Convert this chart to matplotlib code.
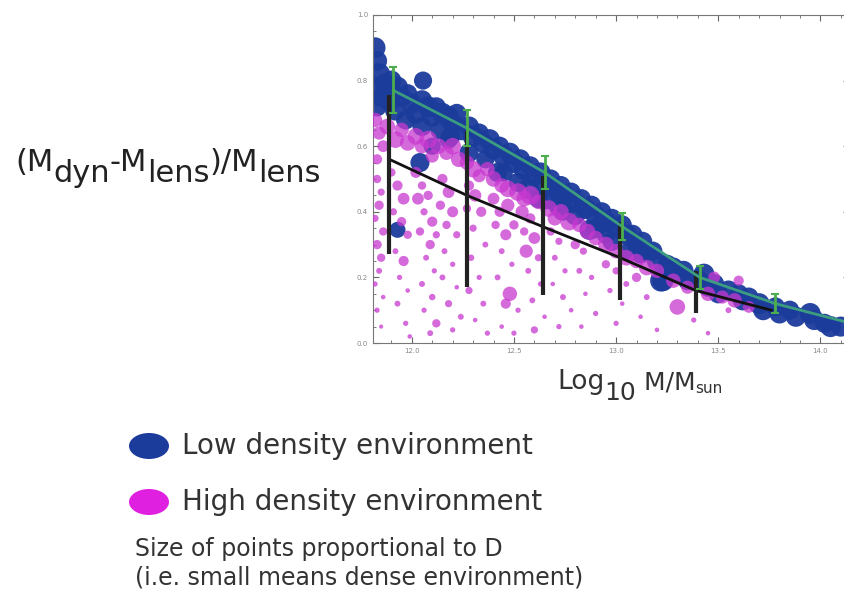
import matplotlib
matplotlib.use("Agg")
import matplotlib.pyplot as plt
from matplotlib.ticker import MultipleLocator
from matplotlib.patches import Ellipse

# ---- data ----
blue_x = [11.82,11.83,11.84,11.82,11.85,11.83,11.87,11.90,11.93,11.89,11.95,11.98,11.92,12.00,12.02,11.97,12.055,12.05,12.08,12.10,
          12.12,12.15,12.05,12.14,12.18,12.20,12.22,12.24,12.18,12.10,12.28,12.30,12.33,12.35,12.38,12.28,12.36,12.40,12.43,12.45,
          12.48,12.50,12.42,12.53,12.55,12.58,12.60,12.52,12.57,12.63,12.65,12.68,12.70,12.66,12.73,12.75,12.72,12.78,12.80,12.83,
          12.85,12.80,12.88,12.90,12.93,12.95,12.90,12.98,13.00,13.03,13.05,12.98,13.08,13.10,13.07,13.13,13.15,13.18,13.20,13.22,
          13.25,13.28,13.30,13.33,13.35,13.40,13.43,13.45,13.48,13.50,13.55,13.60,13.62,13.65,13.70,13.72,13.78,13.80,13.85,13.88,
          13.95,13.97,14.02,14.05,14.10,11.93,12.04,12.19,12.74,12.87,13.23,12.45,12.62,12.95,13.12]
blue_y = [0.90,0.86,0.82,0.78,0.75,0.72,0.79,0.80,0.78,0.74,0.75,0.76,0.71,0.73,0.70,0.68,0.80,0.74,0.72,0.69,
          0.72,0.70,0.66,0.65,0.69,0.67,0.70,0.65,0.62,0.60,0.66,0.63,0.64,0.61,0.62,0.58,0.56,0.59,0.60,0.57,
          0.58,0.55,0.52,0.56,0.53,0.54,0.51,0.49,0.47,0.52,0.49,0.50,0.47,0.44,0.48,0.45,0.42,0.46,0.43,0.44,
          0.41,0.39,0.42,0.39,0.40,0.37,0.35,0.38,0.35,0.36,0.33,0.31,0.33,0.30,0.28,0.31,0.28,0.28,0.25,0.19,
          0.24,0.23,0.21,0.22,0.19,0.19,0.21,0.17,0.18,0.15,0.16,0.15,0.13,0.14,0.12,0.10,0.11,0.09,0.10,0.08,
          0.09,0.07,0.06,0.05,0.05,0.345,0.55,0.63,0.405,0.345,0.19,0.52,0.44,0.33,0.27]
blue_s = [120,110,130,120,110,100,120,110,120,130,110,100,120,110,120,100,90,110,120,110,
          100,120,100,110,120,110,100,120,90,80,110,120,100,110,120,100,90,110,100,120,
          110,120,100,110,120,100,110,100,120,110,120,100,110,120,100,110,120,100,110,100,
          120,110,100,110,100,120,110,100,110,100,120,100,110,100,110,100,110,100,110,130,
          100,110,100,110,100,130,120,100,110,100,110,100,110,100,120,110,100,110,100,110,
          120,110,100,120,110,70,100,100,120,110,120,90,100,90,90]

mag_x = [11.82,11.84,11.86,11.83,11.88,11.92,11.95,11.98,12.02,12.05,12.08,12.10,12.13,12.17,12.20,12.23,12.27,12.30,12.33,12.37,
         12.40,12.44,12.47,12.52,12.55,12.58,12.62,12.67,12.70,12.73,12.77,12.82,12.86,12.90,12.95,13.00,13.05,13.10,13.15,13.20,
         13.28,13.35,13.45,13.52,13.58,13.65,
         11.83,11.85,11.84,11.82,11.86,11.83,11.85,11.84,11.82,11.86,11.83,11.85,
         11.90,11.93,11.96,11.91,11.95,11.98,11.92,11.96,11.94,11.98,11.93,11.97,11.99,
         12.02,12.05,12.03,12.08,12.06,12.10,12.04,12.09,12.12,12.07,12.11,12.05,12.10,12.06,12.12,12.09,
         12.15,12.18,12.14,12.20,12.17,12.22,12.16,12.20,12.15,12.22,12.18,12.24,12.20,
         12.28,12.31,12.27,12.34,12.30,12.36,12.29,12.33,12.28,12.35,12.31,12.37,
         12.40,12.43,12.47,12.41,12.46,12.50,12.44,12.49,12.42,12.48,12.46,12.52,12.44,12.50,
         12.54,12.58,12.55,12.60,12.56,12.62,12.57,12.63,12.59,12.65,12.60,
         12.68,12.72,12.70,12.75,12.69,12.74,12.78,12.72,
         12.80,12.84,12.82,12.88,12.85,12.90,12.83,
         12.95,13.00,12.97,13.03,13.00,13.05,
         13.10,13.15,13.12,13.20,
         13.30,13.38,13.45,13.48,13.55,13.60]
mag_y = [0.68,0.64,0.60,0.56,0.66,0.62,0.65,0.61,0.63,0.60,0.62,0.57,0.60,0.58,0.60,0.56,0.55,0.53,0.51,0.53,
         0.50,0.48,0.47,0.46,0.44,0.45,0.43,0.41,0.38,0.40,0.37,0.36,0.34,0.32,0.30,0.28,0.26,0.25,0.23,0.22,
         0.19,0.17,0.15,0.14,0.13,0.11,
         0.50,0.46,0.42,0.38,0.34,0.30,0.26,0.22,0.18,0.14,0.10,0.05,
         0.52,0.48,0.44,0.40,0.37,0.33,0.28,0.25,0.20,0.16,0.12,0.06,0.02,
         0.52,0.48,0.44,0.45,0.40,0.37,0.34,0.30,0.33,0.26,0.22,0.18,0.14,0.10,0.06,0.03,
         0.50,0.46,0.42,0.40,0.36,0.33,0.28,0.24,0.20,0.17,0.12,0.08,0.04,
         0.48,0.45,0.41,0.40,0.35,0.30,0.26,0.20,0.16,0.12,0.07,0.03,
         0.44,0.40,0.42,0.36,0.33,0.36,0.28,0.24,0.20,0.15,0.12,0.10,0.05,0.03,
         0.40,0.38,0.34,0.32,0.28,0.26,0.22,0.18,0.13,0.08,0.04,
         0.34,0.31,0.26,0.22,0.18,0.14,0.10,0.05,
         0.30,0.28,0.22,0.20,0.15,0.09,0.05,
         0.24,0.22,0.16,0.12,0.06,0.18,
         0.20,0.14,0.08,0.04,
         0.11,0.07,0.03,0.20,0.10,0.19]
mag_s = [60,50,40,30,70,80,60,70,80,60,90,50,70,60,80,70,60,80,50,60,
         70,60,80,90,70,100,60,80,60,70,90,60,70,60,70,60,70,60,70,60,
         60,50,60,50,60,40,
         20,15,25,15,20,25,20,10,8,6,8,5,
         20,30,40,15,25,20,10,30,8,6,10,8,6,
         35,20,40,25,15,30,20,25,15,10,8,10,12,8,20,10,
         30,40,25,35,20,15,10,8,10,6,15,10,8,
         30,45,20,30,15,10,12,8,15,10,6,8,
         40,30,50,20,35,25,10,8,10,60,30,8,6,8,
         50,30,20,40,50,15,10,8,10,6,15,
         20,15,10,8,6,10,6,8,
         25,15,10,8,6,8,6,
         20,15,8,6,8,10,
         25,10,6,6,
         70,8,6,40,10,30]

# binned medians
green_x = [11.91, 12.27, 12.65, 13.03, 13.41, 13.78, 14.12]
green_y = [0.77, 0.655, 0.52, 0.355, 0.20, 0.12, 0.065]
green_err = [0.07, 0.055, 0.05, 0.04, 0.035, 0.03]

black_x = [11.89, 12.27, 12.64, 13.02, 13.39, 13.76]
black_y = [0.56, 0.45, 0.355, 0.26, 0.16, 0.10]
black_hi = [0.755, 0.645, 0.51, 0.37, 0.22]
black_lo = [0.27, 0.17, 0.145, 0.13, 0.09]

xticks = [12.0, 12.5, 13.0, 13.5, 14.0]
yticks = [0.0, 0.2, 0.4, 0.6, 0.8, 1.0]

legend_labels = ["Low density environment", "High density environment"]
legend_colors = ["#1c3c9c", "#e020e0"]
note_lines = ["Size of points proportional to D", "(i.e. small means dense environment)"]

# ---- figure ----
fig = plt.figure(figsize=(8.45, 5.92), dpi=100)
ax = fig.add_axes([0.4414, 0.4206, 0.5633, 0.5541])

ax.scatter(blue_x, blue_y, s=[v * 1.9 for v in blue_s], color="#1c3c9c",
           edgecolors="none", alpha=0.95, zorder=2)
ax.scatter(mag_x, mag_y, s=[v * 1.8 for v in mag_s], color="#c838d0",
           edgecolors="none", alpha=0.75, zorder=3)

# black line with error bars
ax.plot(black_x, black_y, color="#111111", lw=2, zorder=4)
nb = len(black_hi)
ax.vlines(black_x[:nb], black_lo, black_hi, color="#222222", lw=3, zorder=4)

# green line with error bars
ax.plot(green_x, green_y, color="#3c9c80", lw=2, zorder=5)
ng = len(green_err)
ax.errorbar(green_x[:ng], green_y[:ng], yerr=green_err, fmt="none", ecolor="#4cae4c",
            elinewidth=2, capsize=3, capthick=1.5, zorder=5)

ax.set_xlim(11.81, 14.14)
ax.set_ylim(0.0, 1.0)
ax.set_xticks(xticks)
ax.set_xticklabels([f"{t:.1f}" for t in xticks])
ax.set_yticks(yticks)
ax.set_yticklabels([f"{t:.1f}" for t in yticks])
ax.xaxis.set_minor_locator(MultipleLocator(0.1))
ax.yaxis.set_minor_locator(MultipleLocator(0.05))
ax.tick_params(which="both", direction="in", top=True, right=True, colors="#666666",
               labelsize=5, labelcolor="#888888")
ax.tick_params(which="major", length=4)
ax.tick_params(which="minor", length=2)
for sp in ax.spines.values():
    sp.set_color("#777777")

# overlay axes in pixel coordinates for labels/legend
lax = fig.add_axes([0, 0, 1, 1], facecolor="none")
lax.set_xlim(0, 845)
lax.set_ylim(592, 0)
lax.axis("off")

renderer = fig.canvas.get_renderer()


def place_pieces(x0, pieces, color="#222222"):
    x = x0
    for txt, size, ybase in pieces:
        t = lax.text(x, ybase, txt, fontsize=size, color=color, va="baseline", ha="left")
        bb = t.get_window_extent(renderer)
        x += bb.width


# y-axis label
place_pieces(15, [("(M", 22, 171), ("dyn", 22, 182), ("-M", 22, 171), ("lens", 22, 182),
                  (")/M", 22, 171), ("lens", 22, 182)])
# x-axis label
place_pieces(557, [("Log", 19, 389), ("10", 18, 400), (" M/M", 18, 389), ("sun", 11, 393)],
             color="#333333")

# legend
for yc, lab, col in zip([446, 502], legend_labels, legend_colors):
    lax.add_patch(Ellipse((149, yc), 40, 26, color=col, lw=0))
    lax.text(182, yc, lab, fontsize=20, color="#333333", va="center")
for yc, line in zip([549, 577], note_lines):
    lax.text(135, yc, line, fontsize=17, color="#333333", va="center")

fig.savefig("out.png", dpi=100)
